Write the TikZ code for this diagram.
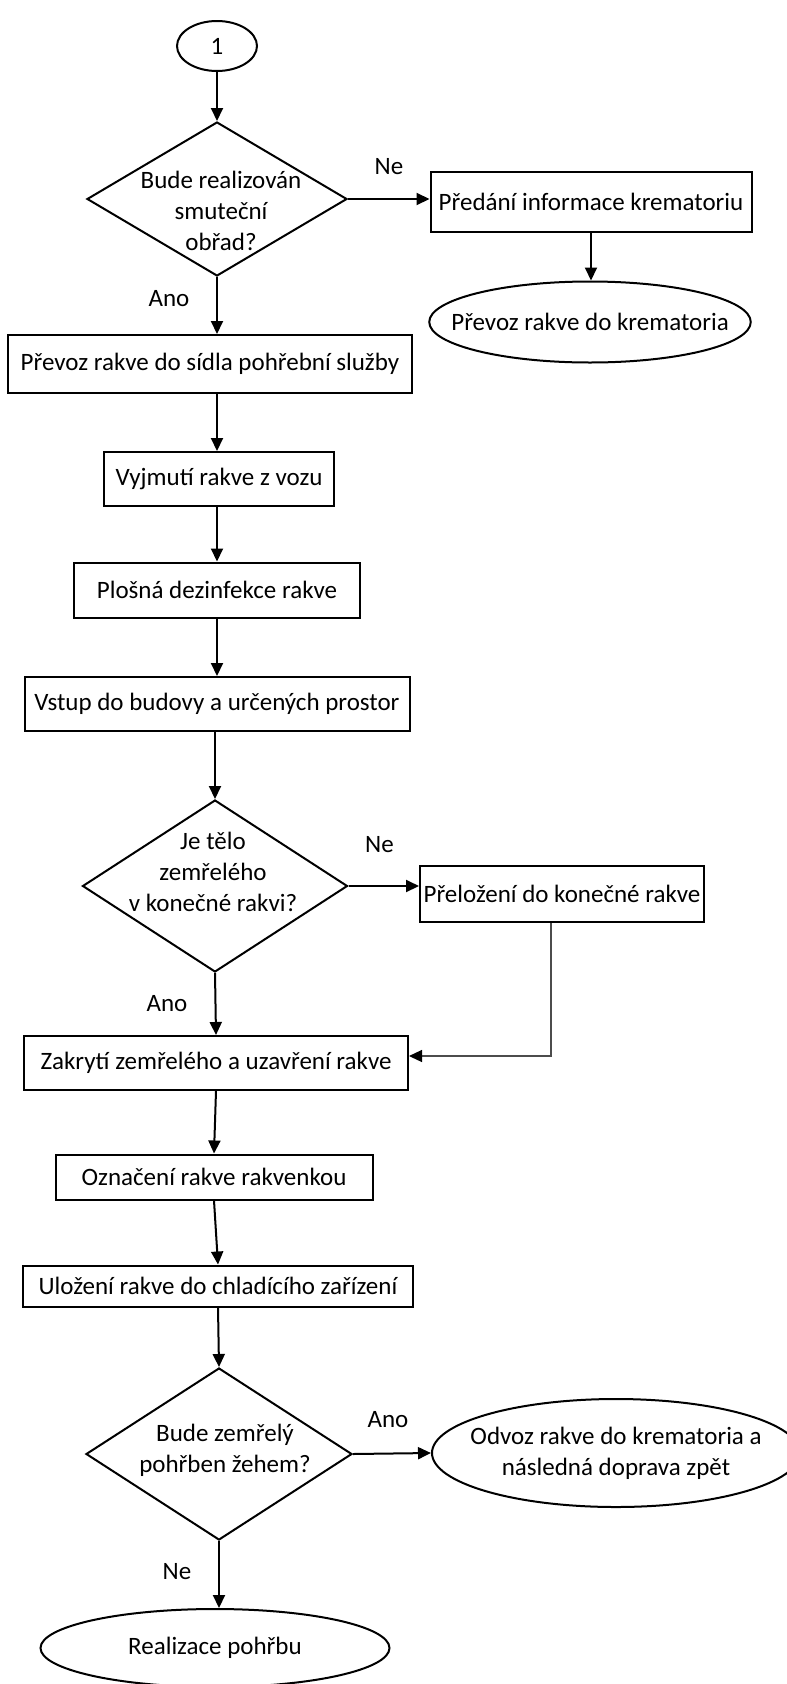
\documentclass[tikz,border=0pt]{standalone}
\usepackage{fontspec}
\setmainfont{Carlito}
\usetikzlibrary{calc,arrows.meta,shapes.geometric}

\tikzset{
  pismo/.style={font=\fontsize{25}{31}\selectfont},
  krok/.style={rectangle,draw=black,line width=2pt,inner sep=0pt,pismo},
  konec/.style={ellipse,draw=black,line width=2pt,inner xsep=-25pt,inner ysep=0pt,align=center,pismo},
  rozhod/.style={diamond,draw=black,line width=2pt,inner sep=0pt},
  popis/.style={inner sep=0pt,align=center,pismo},
  sipka/.style={line width=2pt,-{Triangle[length=13pt,width=12pt]}},
}

\begin{document}
\begin{tikzpicture}[x=1pt,y=-1pt]

  \useasboundingbox (0,0) rectangle (787,1684);

  % start a prvni rozhodnuti
  \node (start) [konec,minimum width=80,minimum height=50] at (217,46) {1};
  \node (q_obrad) [rozhod,minimum width=260,minimum height=154] at (217,199) {};
  \node (t_obrad) [popis] at (221,211) {Bude realizován\\smuteční\\obřad?};

  \node (predani) [krok,minimum width=321,minimum height=60] at (591,202) {Předání informace krematoriu};
  \node (prevoz_krem) [konec,minimum width=317,minimum height=81] at (590,322) {Převoz rakve do krematoria};

  % hlavni vetev
  \node (prevoz_sidlo) [krok,minimum width=404,minimum height=58] at (210,364) {Převoz rakve do sídla pohřební služby};
  \node (vyjmuti) [krok,minimum width=230,minimum height=54] at (219,479) {Vyjmutí rakve z vozu};
  \node (dezinfekce) [krok,minimum width=286,minimum height=55] at (217,590) {Plošná dezinfekce rakve};
  \node (vstup) [krok,minimum width=385,minimum height=54] at (217,704) {Vstup do budovy a určených prostor};

  \node (q_rakev) [rozhod,minimum width=265,minimum height=172] at (215,886) {};
  \node (t_rakev) [popis] at (213,872) {Je tělo\\zemřelého\\v konečné rakvi?};
  \node (prelozeni) [krok,minimum width=284,minimum height=56] at (562,894) {Přeložení do konečné rakve};

  \node (zakryti) [krok,minimum width=384,minimum height=54] at (216,1063) {Zakrytí zemřelého a uzavření rakve};
  \node (oznaceni) [krok,minimum width=317,minimum height=45] at (214,1177) {Označení rakve rakvenkou};
  \node (ulozeni) [krok,minimum width=390,minimum height=41] at (218,1286) {Uložení rakve do chladícího zařízení};

  \node (q_zeh) [rozhod,minimum width=266,minimum height=172] at (219,1454) {};
  \node (t_zeh) [popis] at (225,1450) {Bude zemřelý\\pohřben žehem?};
  \node (odvoz) [konec,minimum width=368,minimum height=108] at (616,1453) {Odvoz rakve do krematoria a\\následná doprava zpět};
  \node (realizace) [konec,minimum width=349,minimum height=78] at (215,1648) {Realizace pohřbu};

  % popisky vetvi
  \node (ne_obrad) [popis] at ($(q_obrad.east)+(41,-32)$) {Ne};
  \node (ano_obrad) [popis] at ($(q_obrad.south)+(-48,22)$) {Ano};
  \node (ne_rakev) [popis] at ($(q_rakev.east)+(31,-41)$) {Ne};
  \node (ano_rakev) [popis] at ($(q_rakev.south)+(-48,31)$) {Ano};
  \node (ano_zeh) [popis] at ($(q_zeh.east)+(35,-34)$) {Ano};
  \node (ne_zeh) [popis] at ($(q_zeh.south)+(-42,31)$) {Ne};

  % spojnice
  \draw [sipka] (start.south) -- (q_obrad.north);
  \draw [sipka] (q_obrad.east) -- (q_obrad.east -| predani.west);
  \draw [sipka] (predani.south) -- (predani.south |- prevoz_krem.north);
  \draw [sipka] (q_obrad.south) -- (q_obrad.south |- prevoz_sidlo.north);
  \draw [sipka] (start |- prevoz_sidlo.south) -- (start |- vyjmuti.north);
  \draw [sipka] (start |- vyjmuti.south) -- (start |- dezinfekce.north);
  \draw [sipka] (start |- dezinfekce.south) -- (start |- vstup.north);
  \draw [sipka] (q_rakev |- vstup.south) -- (q_rakev.north);
  \draw [sipka] (q_rakev.east) -- (q_rakev.east -| prelozeni.west);
  \draw [line width=1.2pt,draw=black!70,-{Triangle[length=13pt,width=12pt,color=black]}]
    ($(prelozeni.south)+(-11,0)$) |- ($(zakryti.east)+(0,-7)$);
  \draw [sipka] (q_rakev.south) -- (zakryti.north);
  \draw [sipka] (zakryti.south) -- (oznaceni.north);
  \draw [sipka] (oznaceni.south) -- (ulozeni.north);
  \draw [sipka] (ulozeni.south) -- (q_zeh.north);
  \draw [sipka] (q_zeh.east) -- (odvoz.west);
  \draw [sipka] (q_zeh.south) -- (q_zeh.south |- realizace.north);

\end{tikzpicture}
\end{document}
